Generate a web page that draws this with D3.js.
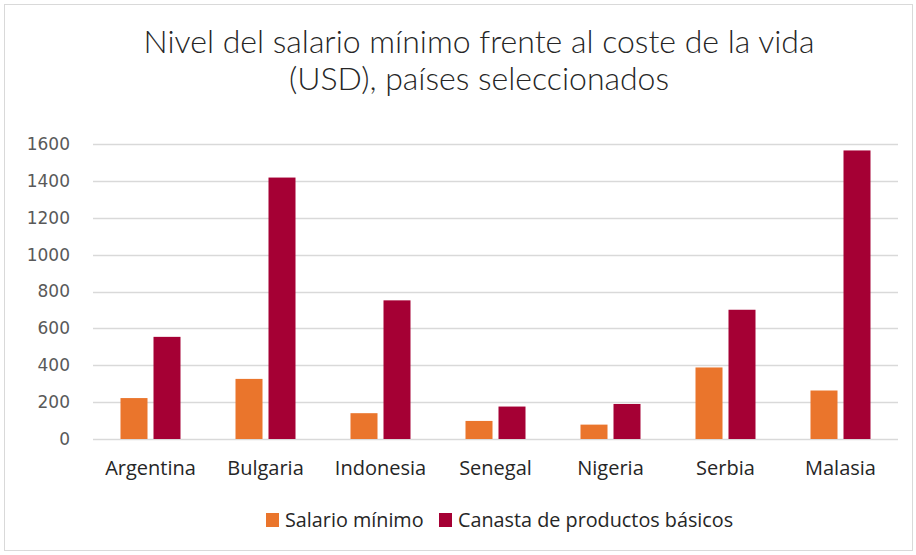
<!DOCTYPE html>
<html>
<head>
<meta charset="utf-8">
<script src="https://cdn.jsdelivr.net/npm/d3@7"></script>
<style>
  body { margin: 0; background: #fff; }
  svg { display: block; }
</style>
</head>
<body>
<svg id="chart" width="916" height="555"></svg>
<script>
const countries = ["Argentina", "Bulgaria", "Indonesia", "Senegal", "Nigeria", "Serbia", "Malasia"];
const salario = [222, 326, 140, 98, 78, 388, 263];
const canasta = [554, 1418, 752, 176, 190, 701, 1565];
const yTicks = [0, 200, 400, 600, 800, 1000, 1200, 1400, 1600];
const seriesNames = ["Salario mínimo", "Canasta de productos básicos"];
const seriesColors = ["#ea752c", "#a50034"];

const svg = d3.select("#chart");

// frame
svg.append("rect")
  .attr("x", 4.5).attr("y", 4.5)
  .attr("width", 908).attr("height", 546)
  .attr("fill", "#fff")
  .attr("stroke", "#d9d9d9");

// title
svg.append("text")
  .attr("x", 479).attr("y", 53)
  .attr("text-anchor", "middle")
  .attr("font-family", "Lato, 'Open Sans', sans-serif")
  .attr("font-weight", 300)
  .attr("font-size", 32)
  .attr("fill", "#262626")
  .selectAll("tspan")
  .data(["Nivel del salario mínimo frente al coste de la vida", "(USD), países seleccionados"])
  .join("tspan")
    .attr("x", 479)
    .attr("dy", (d, i) => i ? 37 : 0)
    .text(d => d);

const left = 93, right = 898;

const x = d3.scaleBand()
  .domain(countries)
  .range([left, right]);

const y = d3.scaleLinear()
  .domain([0, 1600])
  .range([439, 144]);

const barW = 27, gap = 6;

// gridlines
svg.append("g")
  .selectAll("line")
  .data(yTicks)
  .join("line")
    .attr("x1", left).attr("x2", right)
    .attr("y1", d => Math.round(y(d)) + 0.5)
    .attr("y2", d => Math.round(y(d)) + 0.5)
    .attr("stroke", "#d9d9d9")
    .attr("stroke-width", 1.5);

// y axis labels
const yAxis = svg.append("g")
  .attr("transform", `translate(${left - 2},0)`)
  .call(d3.axisLeft(y).tickValues(yTicks).tickSize(0).tickPadding(21).tickFormat(d3.format("d")));
yAxis.select(".domain").remove();
yAxis.selectAll("text")
  .attr("font-family", "'DejaVu Sans', sans-serif")
  .attr("font-size", 17)
  .attr("fill", "#595959");

// bars
const series = [salario, canasta];
series.forEach((vals, s) => {
  svg.append("g")
    .selectAll("rect")
    .data(countries)
    .join("rect")
      .attr("x", d => x(d) + x.bandwidth() / 2 + (s === 0 ? -barW - gap / 2 : gap / 2))
      .attr("y", (d, i) => y(vals[i]))
      .attr("width", barW)
      .attr("height", (d, i) => y(0) - y(vals[i]))
      .attr("fill", seriesColors[s]);
});

// x labels
const xAxis = svg.append("g")
  .attr("transform", "translate(0,439)")
  .call(d3.axisBottom(x).tickSize(0).tickPadding(22));
xAxis.select(".domain").remove();
xAxis.selectAll("text")
  .attr("font-family", "'Open Sans', sans-serif")
  .attr("font-size", 20)
  .attr("fill", "#262626");

// legend
const legend = svg.append("g").attr("font-family", "'Open Sans', sans-serif").attr("font-size", 19.8).attr("fill", "#262626");
const legendX = [266, 439];
seriesNames.forEach((name, i) => {
  legend.append("rect")
    .attr("x", legendX[i]).attr("y", 513)
    .attr("width", 13).attr("height", 14)
    .attr("fill", seriesColors[i]);
  legend.append("text")
    .attr("x", legendX[i] + 19).attr("y", 527)
    .text(name);
});
</script>
</body>
</html>
